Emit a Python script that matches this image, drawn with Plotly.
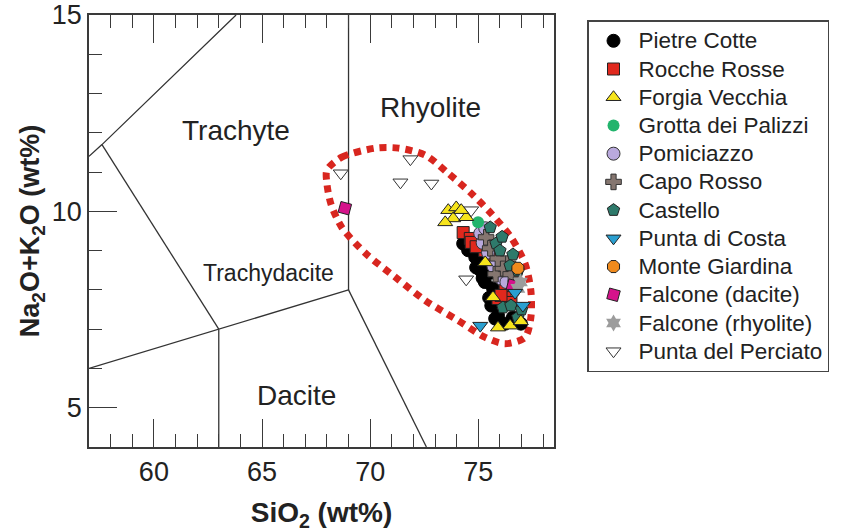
import plotly.graph_objects as go

# ---------------- data ----------------
# TAS field boundaries (SiO2, Na2O+K2O)
bnd_phonolite_x = [57.0, 57.6, 63.8]
bnd_phonolite_y = [11.4, 11.7, 15.0]
bnd_trachyte_x = [57.6, 63.0]
bnd_trachyte_y = [11.7, 7.0]
bnd_dacite_top_x = [57.0, 63.0, 69.0]
bnd_dacite_top_y = [6.0, 7.0, 8.0]
bnd_andesite_x = [63.0, 63.0]
bnd_andesite_y = [4.0, 7.0]
bnd_rhyolite_x = [69.0, 69.0]
bnd_rhyolite_y = [8.0, 15.0]
bnd_rhy_dac_x = [69.0, 72.6]
bnd_rhy_dac_y = [8.0, 4.0]

field_names = ["Trachyte", "Rhyolite", "Trachydacite", "Dacite"]
field_x = [63.8, 72.8, 65.3, 66.6]
field_y = [12.07, 12.65, 8.44, 5.31]
field_size = [28, 28, 23, 28]

# dotted outline around the samples
outline_x = [68.0, 68.69, 70.25, 71.31, 72.55, 73.61, 74.67, 75.59, 76.51, 77.16,
             77.43, 77.43, 77.16, 76.24, 75.32, 74.07, 72.55, 71.17, 69.79, 68.69,
             68.18, 68.0]
outline_y = [11.05, 11.38, 11.61, 11.61, 11.43, 10.97, 10.46, 9.95, 9.34, 8.67,
             7.98, 7.30, 6.79, 6.63, 6.79, 7.22, 7.73, 8.32, 8.93, 9.59,
             10.20, 10.71]

pietre_cotte_x = [74.53, 74.86, 74.90, 74.30, 74.99, 75.20, 75.59, 75.68, 75.50, 75.91,
                  76.01, 75.78, 76.24, 76.60, 76.97, 75.40, 74.67, 75.10, 75.30, 75.60]
pietre_cotte_y = [9.01, 8.83, 8.57, 9.18, 8.80, 8.30, 8.44, 8.04, 7.80, 7.35,
                  7.17, 7.27, 7.14, 7.30, 7.14, 8.60, 9.06, 8.50, 8.20, 7.60]
rocche_rosse_x = [74.30, 74.63, 74.67, 75.30, 75.59, 76.24, 75.91, 76.51, 76.24, 76.05, 74.90]
rocche_rosse_y = [9.46, 9.31, 9.21, 9.00, 8.88, 7.93, 7.78, 7.68, 8.11, 7.86, 9.10]
forgia_vecchia_x = [73.61, 73.98, 73.84, 73.47, 74.44, 74.21, 75.32, 75.68, 76.47, 75.91, 76.97]
forgia_vecchia_y = [10.03, 10.10, 9.82, 9.72, 9.85, 10.03, 8.70, 7.81, 7.09, 7.04, 7.20]
grotta_palizzi_x = [74.99]
grotta_palizzi_y = [9.72]
pomiciazzo_x = [75.09, 75.32, 75.45, 76.05, 76.30, 75.70, 75.20]
pomiciazzo_y = [9.44, 9.57, 8.95, 8.29, 8.20, 8.60, 9.20]
capo_rosso_x = [75.36, 75.55, 75.80, 76.37, 76.14, 76.74, 75.90, 76.50]
capo_rosso_y = [9.34, 9.06, 8.40, 8.67, 8.55, 8.19, 8.80, 8.40]
castello_x = [75.55, 75.82, 76.10, 76.47, 76.83, 76.14, 76.51, 76.83, 76.00, 76.60, 77.00]
castello_y = [9.59, 9.18, 9.35, 8.62, 8.49, 7.55, 7.60, 7.30, 9.00, 8.90, 7.50]
punta_costa_x = [77.06, 75.09, 76.70]
punta_costa_y = [7.60, 7.09, 7.93]
monte_giardina_x = [76.83]
monte_giardina_y = [8.55]
falcone_dac_x = [68.83, 76.60]
falcone_dac_y = [10.08, 8.11]
falcone_rhy_x = [76.83, 76.95]
falcone_rhy_y = [8.04, 8.20]
perciato_x = [68.64, 71.86, 71.40, 72.83, 74.67, 74.44]
perciato_y = [10.97, 11.33, 10.74, 10.71, 10.03, 8.27]

x_ticks = [60, 65, 70, 75]
y_ticks = [5, 10, 15]

# ---------------- figure ----------------
FONT = "Liberation Sans, Arial, sans-serif"
AX = "#3a3a3a"
fig = go.Figure()

for bx, by in [(bnd_phonolite_x, bnd_phonolite_y), (bnd_trachyte_x, bnd_trachyte_y),
               (bnd_dacite_top_x, bnd_dacite_top_y), (bnd_andesite_x, bnd_andesite_y),
               (bnd_rhyolite_x, bnd_rhyolite_y), (bnd_rhy_dac_x, bnd_rhy_dac_y)]:
    fig.add_trace(go.Scatter(x=bx, y=by, mode="lines", line=dict(color="#333", width=1.3),
                             showlegend=False, hoverinfo="skip"))

fig.add_trace(go.Scatter(x=outline_x + outline_x[:1], y=outline_y + outline_y[:1], mode="lines",
                         line=dict(color="#d8261f", width=7, dash="7px,6px", shape="spline", smoothing=0.8),
                         showlegend=False, hoverinfo="skip"))

edge = dict(color="#222", width=1)
series = [
    # name, x, y, symbol, color, size, line, rank
    ("Punta del Perciato", perciato_x, perciato_y, "triangle-down", "white", 13, dict(color="#333", width=1), 12),
    ("Pietre Cotte", pietre_cotte_x, pietre_cotte_y, "circle", "#000000", 13, dict(color="#000", width=1), 1),
    ("Rocche Rosse", rocche_rosse_x, rocche_rosse_y, "square", "#e0281d", 12, edge, 2),
    ("Pomiciazzo", pomiciazzo_x, pomiciazzo_y, "circle", "#b9a9dd", 13, dict(color="#333", width=1), 5),
    ("Capo Rosso", capo_rosso_x, capo_rosso_y, "cross", "#857670", 13, dict(color="#333", width=1), 6),
    ("Castello", castello_x, castello_y, "pentagon", "#2e7a6b", 13, edge, 7),
    ("Monte Giardina", monte_giardina_x, monte_giardina_y, "octagon", "#f08a1c", 13, edge, 9),
    ("Falcone (dacite)", falcone_dac_x, falcone_dac_y, "square", "#d5138b", 11, edge, 10),
    ("Falcone (rhyolite)", falcone_rhy_x, falcone_rhy_y, "hexagram", "#9c9c9c", 13, dict(color="#9c9c9c", width=0), 11),
    ("Punta di Costa", punta_costa_x, punta_costa_y, "triangle-down", "#2a9fd0", 13, edge, 8),
    ("Grotta dei Palizzi", grotta_palizzi_x, grotta_palizzi_y, "circle", "#22b46c", 12, dict(color="#22b46c", width=0), 4),
    ("Forgia Vecchia", forgia_vecchia_x, forgia_vecchia_y, "triangle-up", "#f6e41c", 13, edge, 3),
]
for name, sx, sy, sym, col, size, ln, rank in series:
    marker = dict(symbol=sym, color=col, size=size, line=ln)
    if name == "Falcone (dacite)":
        marker["angle"] = 15
    fig.add_trace(go.Scatter(x=sx, y=sy, mode="markers",
                             name='<span style="font-size:22.5px">' + name + '</span>',
                             marker=marker, legendrank=rank))

for nm, fx, fy, fs in zip(field_names, field_x, field_y, field_size):
    fig.add_annotation(x=fx, y=fy, xref="x", yref="y", text=nm, showarrow=False,
                       font=dict(family=FONT, size=fs, color="#222"))

minor = dict(dtick=1, ticks="inside", ticklen=13, tickwidth=1.3, tickcolor=AX, showgrid=False)
fig.update_xaxes(range=[57, 78.5], tickmode="array", tickvals=x_ticks, ticks="inside", ticklen=28,
                 tickwidth=1.3, tickcolor=AX, showline=True, linecolor=AX, linewidth=1.5,
                 mirror="ticks", showgrid=False, zeroline=False, minor=minor,
                 ticklabeloverflow="allow",
                 tickfont=dict(family=FONT, size=27, color="#222"),
                 title=dict(text="<b>SiO<sub>2</sub> (wt%)</b>", font=dict(family=FONT, size=28, color="#222"),
                            standoff=21))
fig.update_yaxes(range=[4, 15], tickmode="array", tickvals=y_ticks, ticks="inside", ticklen=28,
                 tickwidth=1.3, tickcolor=AX, showline=True, linecolor=AX, linewidth=1.5,
                 mirror=True, showgrid=False, zeroline=False, minor=minor,
                 ticklabeloverflow="allow",
                 tickfont=dict(family=FONT, size=27, color="#222"),
                 title=dict(text="<b>Na<sub>2</sub>O+K<sub>2</sub>O (wt%)</b>",
                            font=dict(family=FONT, size=27, color="#222"), standoff=4))

fig.update_layout(
    width=843, height=532,
    margin=dict(l=89, r=289, t=15, b=85, autoexpand=False),
    plot_bgcolor="white", paper_bgcolor="white",
    font=dict(family=FONT, color="#222"),
    legend=dict(x=1.071, y=0.988, xanchor="left", yanchor="top", bordercolor="#444", borderwidth=1.5,
                font=dict(family=FONT, size=19.4, color="#222"), bgcolor="white", itemwidth=40),
)

fig.write_html("out.html", config={"displayModeBar": False},
               post_script="document.body.style.margin='0px';")
